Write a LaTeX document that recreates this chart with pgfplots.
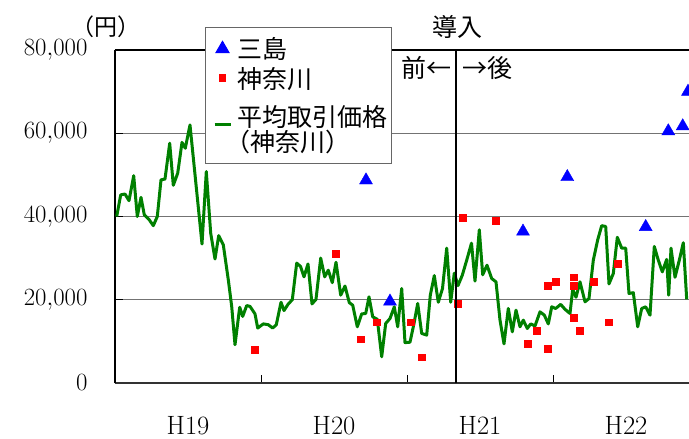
\documentclass[border=0pt]{standalone}
\usepackage{fontspec}
\usepackage{pgfplots}
\usepackage{pgfplotstable}
\pgfplotsset{compat=1.18}
\newfontfamily\jp{Noto Sans CJK JP}[RawFeature=+halt]
\definecolor{mgreen}{RGB}{0,128,0}
\pgfplotsset{
  mylinelegend/.style={legend image code/.code={\path[draw=none,fill=none] (0bp,-2bp) rectangle (28bp,2bp); \draw[##1] (7bp,0bp) -- (23bp,0bp);}},
  mymarklegend/.style={legend image code/.code={\path[draw=none,fill=none] (0bp,-2bp) rectangle (28bp,2bp); \draw[mark repeat=2,mark phase=2,##1] plot coordinates {(0bp,0bp) (15bp,0bp) (28bp,0bp)};}},
}

\pgfplotstableread{
x y
1.7 40000
5.7 45200
10 45400
14 43800
18.7 49800
22.3 40000
26 44600
29.3 40400
34.3 39200
38.3 37800
42.3 40000
46 48800
50 49000
54.7 57600
58.3 47500
62.7 50400
67 57800
70.3 56400
75 62000
87 33400
91.3 50800
95.7 36000
100 29800
103.7 35400
108.3 33200
113.3 24800
116.7 18400
120 9200
124.7 18200
127.7 16000
131.7 18600
135 18400
140 16600
142.7 13200
148.3 14200
153.3 14000
157.7 13200
161.3 14000
166 19400
169 17400
173.3 19000
177.3 20000
181.7 28800
185.5 28000
189 25500
193 28600
197 19000
201 20100
205.7 30000
209.7 25500
213.3 27100
217.3 24100
221 29000
225.7 21100
230 23300
234.3 19300
237.7 18700
242.3 13500
246.7 16600
250.7 16700
254 20700
257.7 15900
262.3 15300
266.7 6300
270.7 14300
275 15500
279.3 18300
282.7 13500
286.7 22700
290 9700
295 9800
299 14300
302.7 19100
306.7 11900
311.7 11500
315.3 21100
319.3 25800
323.3 19400
327.5 22700
331.7 32400
335.7 19400
339.3 26400
343 23400
347.3 25900
351.7 29500
356.5 33600
360 24500
364.3 36800
367.7 26000
372 28300
376.7 25100
381 24300
385 15100
389 9400
393.3 17900
397.3 12300
401 17500
405 13500
408.3 15100
412.3 13100
415.7 14200
420 13700
425 17100
429.3 16300
433.3 14200
436.7 18300
440.7 17900
445.7 18900
450 17700
455 16700
457.7 22500
461 20600
465 24300
470 19500
474 20300
478.3 29500
482.7 34400
486.7 37800
490.7 37600
494 23800
498.3 26300
502.3 35000
506.7 32400
510.7 32400
514 21500
518.3 21700
522.7 13500
526.7 17900
530.7 18300
535 16300
539.3 32800
543.3 29500
547.3 26700
551.7 29700
553.7 21100
556 32400
560 25400
564.3 29500
568.3 33700
571.7 20100
}\avgtable

\pgfplotstableread{
x y
140 8000
220.7 31000
246 10500
261.7 14600
295.7 14600
307 6200
342.7 19000
347.3 39800
380.3 38900
412.7 9400
421.7 12500
432.3 8300
432.3 23300
441 24300
458.3 25400
458.3 23300
458.3 15700
465 12600
478.3 24300
493.7 14600
502.3 28600
}\kanagawa

\pgfplotstableread{
x y
251 48700
275 19600
408 36400
452.3 49500
530.7 37500
553.3 60500
567.7 61700
573 70000
575 69000
}\mishima

\begin{document}
\begin{tikzpicture}
\path[use as bounding box] (-115bp,-56bp) rectangle (574bp,383bp);
\begin{axis}[
  at={(0bp,0bp)}, anchor=south west,
  scale only axis, width=574bp, height=333bp,
  xmin=0, xmax=574, ymin=0, ymax=80000,
  axis x line*=bottom, axis y line*=left,
  x axis line style={line width=1.8bp, draw=black!80},
  y axis line style={line width=1.8bp, draw=black},
  xtick={146,292,438}, xticklabels={},
  extra x ticks={73,219,365,511},
  extra x tick labels={H19,H20,H21,H22},
  extra x tick style={major tick length=0bp, xticklabel style={yshift=-30bp}},
  ytick={0,20000,40000,60000,80000},
  yticklabels={$0$,$20{,}000$,$40{,}000$,$60{,}000$,$80{,}000$},
  ymajorgrids,
  major grid style={draw=black!55, line width=0.9bp},
  major tick length=8bp,
  tick style={draw=black, line width=0.8bp},
  tick align=inside,
  xtick pos=bottom, ytick pos=left,
  scaled y ticks=false,
  ticklabel style={font=\fontsize{26.5bp}{30bp}\selectfont},
  yticklabel style={xshift=-24bp},
  reverse legend,
  legend cell align=left,
  legend style={at={(0.1568,1.069)}, anchor=north west,
    draw=black!60, line width=1bp, fill=white,
    font=\jp\fontsize{25bp}{25bp}\selectfont,
    cells={align=left},
    inner xsep=2bp, inner ysep=8bp, row sep=3bp,
    nodes={inner sep=2bp},
    /tikz/every even column/.append style={column sep=2bp}},
  after end axis/.code={
    \draw[line width=1.2bp, black] (rel axis cs:0,1) -- (rel axis cs:1,1);
    \draw[line width=1.1bp, black] (axis cs:341,0) -- (axis cs:341,80000);
  },
]
\addplot[mgreen, line width=3bp, line join=round, mylinelegend]
  table[x=x, y=y] {\avgtable};
\addlegendentry{\rule{0pt}{30bp}平均取引価格\\（神奈川）}
\addplot[only marks, mark=square*, mark size=3.4bp, color=red, mymarklegend]
  table[x=x, y=y] {\kanagawa};
\addlegendentry{神奈川}
\addplot[only marks, mark=triangle*, mark size=7.5bp, color=blue, mymarklegend]
  table[x=x, y=y] {\mishima};
\addlegendentry{三島}
\end{axis}
\node[font=\jp\fontsize{23bp}{24bp}\selectfont, anchor=center] at (-9bp,356bp) {（円）};
\node[font=\jp\fontsize{25bp}{26bp}\selectfont, anchor=center] at (342bp,356bp) {導入};
\node[font=\jp\fontsize{25bp}{26bp}\selectfont, anchor=east, inner sep=0bp] at (337bp,315bp) {前←};
\node[font=\jp\fontsize{25bp}{26bp}\selectfont, anchor=west, inner sep=0bp] at (347bp,315bp) {→後};
\end{tikzpicture}
\end{document}
